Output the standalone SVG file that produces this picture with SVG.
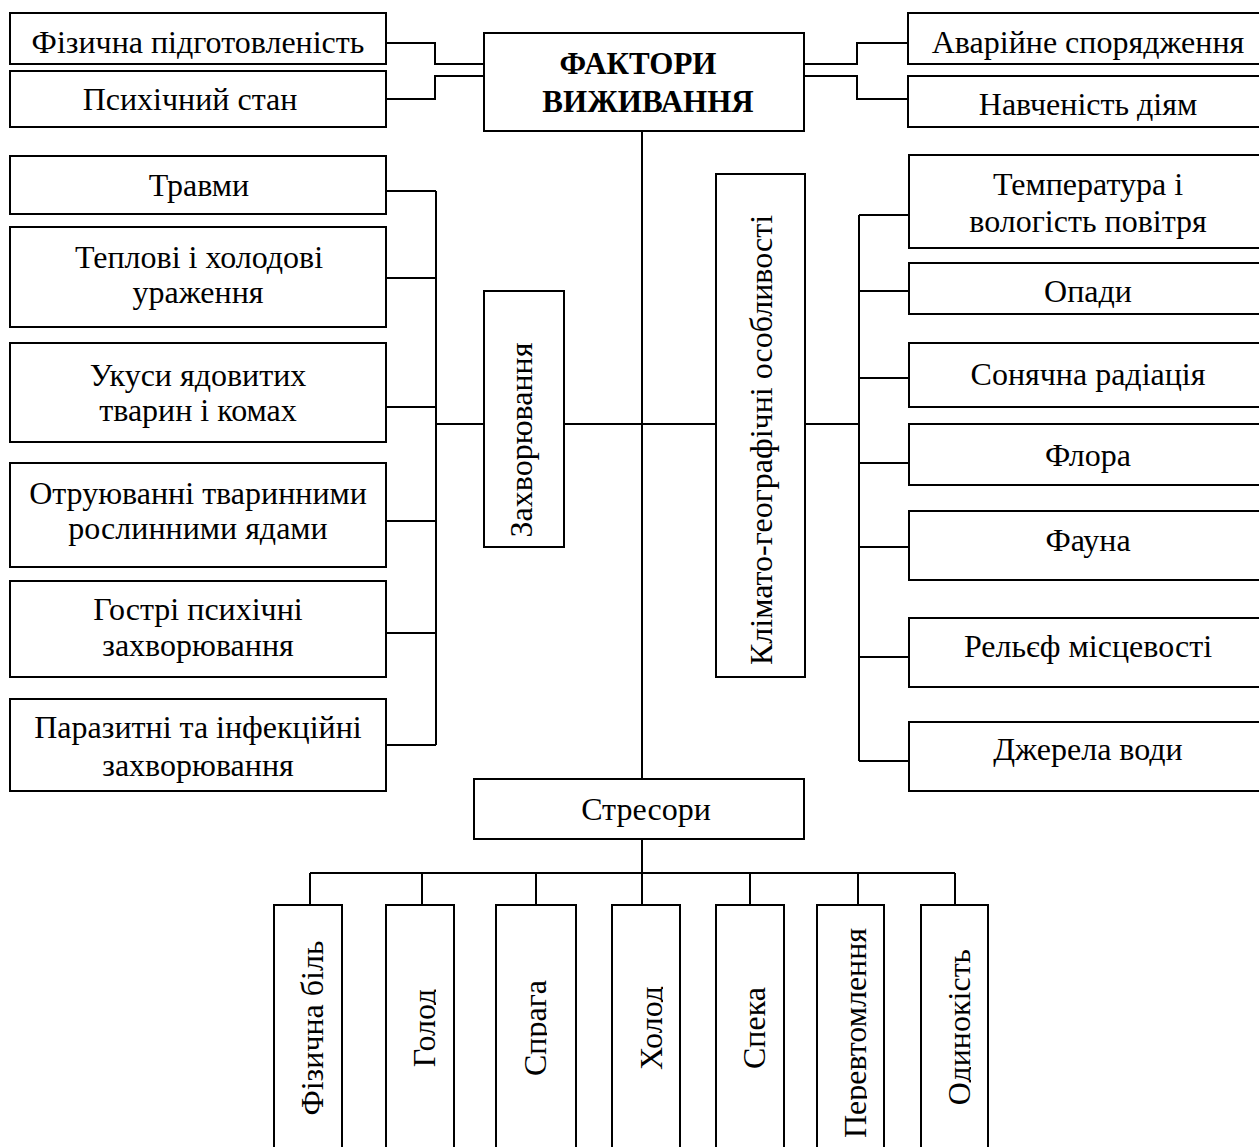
<svg xmlns="http://www.w3.org/2000/svg" width="1259" height="1147" viewBox="0 0 1259 1147">
<style>
.box{fill:#fff;stroke:#000;stroke-width:2}
.t{font-family:"Liberation Serif","Times New Roman",serif;font-size:32px;fill:#000;text-anchor:middle}
.b{font-weight:bold;font-size:31px}
.conn{fill:none;stroke:#000;stroke-width:2}
</style>
<defs>
<clipPath id="cbot" clipPathUnits="userSpaceOnUse">
<rect x="276" y="906" width="48" height="241"/>
<rect x="388" y="906" width="48" height="241"/>
<rect x="498" y="906" width="49" height="241"/>
<rect x="614" y="906" width="49" height="241"/>
<rect x="718" y="906" width="48" height="241"/>
<rect x="819" y="906" width="48" height="241"/>
<rect x="923" y="906" width="48" height="241"/>
</clipPath>
</defs>
<rect x="0" y="0" width="1259" height="1147" fill="#fff"/>
<g id="connectors" class="conn">
<path d="M386,43 H435 V64 H484"/>
<path d="M386,99 H435 V76 H484"/>
<path d="M804,64 H857 V43 H908"/>
<path d="M804,76 H857 V99 H908"/>
<path d="M642,131 V779"/>
<path d="M436,191 V745"/>
<path d="M386,191 H436 M386,278 H436 M386,407 H436 M386,521 H436 M386,633 H436 M386,745 H436"/>
<path d="M436,424 H484"/>
<path d="M564,424 H716"/>
<path d="M805,424 H859"/>
<path d="M859,215 V761"/>
<path d="M859,215 H909 M859,291 H909 M859,378 H909 M859,463 H909 M859,547 H909 M859,657 H909 M859,761 H909"/>
<path d="M642,839 V873"/>
<path d="M310,873 H955"/>
<path d="M310,873 V905 M422,873 V905 M536,873 V905 M642,873 V905 M750,873 V905 M858,873 V905 M955,873 V905"/>
</g>
<g id="n-fiz"><rect class="box" x="10" y="13" width="376" height="51"/><text class="t" x="198" y="53">Фізична підготовленість</text></g>
<g id="n-psy"><rect class="box" x="10" y="71" width="376" height="56"/><text class="t" x="190" y="110">Психічний стан</text></g>
<g id="root"><rect class="box" x="484" y="33" width="320" height="98"/><text class="t b" x="638" y="74">ФАКТОРИ</text><text class="t b" x="648" y="112">ВИЖИВАННЯ</text></g>
<g id="n-avar"><rect class="box" x="908" y="13" width="360" height="51"/><text class="t" x="1088" y="53">Аварійне спорядження</text></g>
<g id="n-navch"><rect class="box" x="908" y="76" width="360" height="51"/><text class="t" x="1088" y="115">Навченість діям</text></g>

<g id="n-travmy"><rect class="box" x="10" y="156" width="376" height="58"/><text class="t" x="199" y="196">Травми</text></g>
<g id="n-teplovi"><rect class="box" x="10" y="227" width="376" height="100"/><text class="t" x="199" y="268">Теплові і холодові</text><text class="t" x="198" y="303">ураження</text></g>
<g id="n-ukusy"><rect class="box" x="10" y="343" width="376" height="99"/><text class="t" x="198" y="386">Укуси ядовитих</text><text class="t" x="198" y="421">тварин і комах</text></g>
<g id="n-otruy"><rect class="box" x="10" y="463" width="376" height="104"/><text class="t" x="198" y="504">Отруюванні тваринними</text><text class="t" x="198" y="539">рослинними ядами</text></g>
<g id="n-gostri"><rect class="box" x="10" y="581" width="376" height="96"/><text class="t" x="198" y="620">Гострі психічні</text><text class="t" x="198" y="656">захворювання</text></g>
<g id="n-paraz"><rect class="box" x="10" y="699" width="376" height="92"/><text class="t" x="198" y="738">Паразитні та інфекційні</text><text class="t" x="198" y="776">захворювання</text></g>

<g id="n-zakhv"><rect class="box" x="484" y="291" width="80" height="256"/><text class="t" transform="translate(532,440) rotate(-90)">Захворювання</text></g>
<g id="n-klim"><rect class="box" x="716" y="174" width="89" height="503"/><text class="t" transform="translate(772,440) rotate(-90)">Клімато-географічні особливості</text></g>

<g id="n-temp"><rect class="box" x="909" y="155" width="360" height="93"/><text class="t" x="1088" y="195">Температура і</text><text class="t" x="1088" y="232">вологість повітря</text></g>
<g id="n-opady"><rect class="box" x="909" y="263" width="360" height="51"/><text class="t" x="1088" y="302">Опади</text></g>
<g id="n-sonce"><rect class="box" x="909" y="343" width="360" height="64"/><text class="t" x="1088" y="385">Сонячна радіація</text></g>
<g id="n-flora"><rect class="box" x="909" y="424" width="360" height="61"/><text class="t" x="1088" y="466">Флора</text></g>
<g id="n-fauna"><rect class="box" x="909" y="511" width="360" height="69"/><text class="t" x="1088" y="551">Фауна</text></g>
<g id="n-relief"><rect class="box" x="909" y="618" width="360" height="69"/><text class="t" x="1088" y="657">Рельєф місцевості</text></g>
<g id="n-voda"><rect class="box" x="909" y="722" width="360" height="69"/><text class="t" x="1088" y="760">Джерела води</text></g>

<g id="n-stres"><rect class="box" x="474" y="779" width="330" height="60"/><text class="t" x="646" y="820">Стресори</text></g>

<g id="n-bil"><rect class="box" x="274" y="905" width="68" height="260"/></g>
<g id="n-golod"><rect class="box" x="386" y="905" width="68" height="260"/></g>
<g id="n-spraga"><rect class="box" x="496" y="905" width="80" height="260"/></g>
<g id="n-kholod"><rect class="box" x="612" y="905" width="68" height="260"/></g>
<g id="n-speka"><rect class="box" x="716" y="905" width="68" height="260"/></g>
<g id="n-perevt"><rect class="box" x="817" y="905" width="67" height="260"/></g>
<g id="n-odyn"><rect class="box" x="921" y="905" width="67" height="260"/></g>
<g id="stressor-labels" clip-path="url(#cbot)">
<text class="t" transform="translate(323,1028) rotate(-90)">Фізична біль</text>
<text class="t" transform="translate(435,1028) rotate(-90)">Голод</text>
<text class="t" transform="translate(546,1028) rotate(-90)">Спрага</text>
<text class="t" transform="translate(662,1028) rotate(-90)">Холод</text>
<text class="t" transform="translate(765,1028) rotate(-90)">Спека</text>
<text class="t" transform="translate(866,1033) rotate(-90)">Перевтомлення</text>
<text class="t" transform="translate(970,1027) rotate(-90)">Одинокість</text>
</g>
</svg>
